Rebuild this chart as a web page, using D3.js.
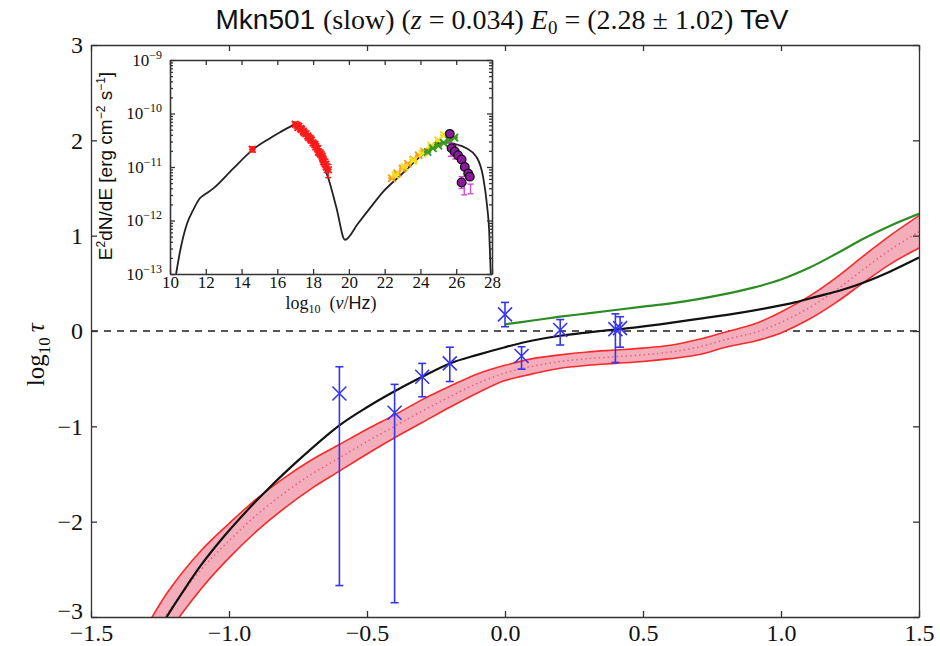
<!DOCTYPE html>
<html>
<head>
<meta charset="utf-8">
<title>Mkn501 optical depth</title>
<script src="https://cdn.jsdelivr.net/npm/d3@7/dist/d3.min.js"></script>
<style>
  body { margin: 0; background: #fff; }
  svg { display: block; }
  .serif { font-family: "Liberation Serif", "DejaVu Serif", serif; }
  .sans { font-family: "Liberation Sans", Arial, sans-serif; }
  .axis path, .axis line { stroke: #333; stroke-width: 1.3; }
  .axis text { fill: #111; font-family: "Liberation Serif", "DejaVu Serif", serif; }
</style>
</head>
<body>
<svg id="chart" width="940" height="646"></svg>
<script>
// ---- main panel data ----
var xTicks = [-1.5, -1.0, -0.5, 0.0, 0.5, 1.0, 1.5];
var yTicks = [-3, -2, -1, 0, 1, 2, 3];

// black model curve
var blackX = [-1.25, -1.226, -1.15, -1.10, -1.02, -0.94, -0.863, -0.75, -0.60, -0.50, -0.405, -0.30, -0.20, -0.10, 0.00, 0.10, 0.20, 0.344, 0.45, 0.562, 0.707, 0.85, 0.948, 1.05, 1.129, 1.22, 1.31, 1.40, 1.50];
var blackY = [-3.12, -3.00, -2.66, -2.45, -2.16, -1.90, -1.67, -1.36, -0.99, -0.80, -0.64, -0.48, -0.34, -0.25, -0.17, -0.10, -0.05, 0.00, 0.03, 0.07, 0.13, 0.19, 0.24, 0.30, 0.36, 0.43, 0.52, 0.63, 0.77];

// green curve
var greenX = [0.00, 0.10, 0.20, 0.30, 0.40, 0.50, 0.60, 0.70, 0.80, 0.90, 1.00, 1.10, 1.20, 1.30, 1.40, 1.50];
var greenY = [0.07, 0.11, 0.15, 0.185, 0.22, 0.255, 0.29, 0.335, 0.39, 0.455, 0.54, 0.66, 0.81, 0.97, 1.11, 1.23];

// red band: centre, lower and upper edges
var bandX   = [-1.30, -1.22, -1.10, -1.00, -0.90, -0.80, -0.70, -0.60, -0.50, -0.40, -0.30, -0.20, -0.10, 0.00, 0.10, 0.20, 0.30, 0.40, 0.50, 0.60, 0.70, 0.80, 0.90, 0.95, 1.00, 1.10, 1.20, 1.30, 1.40, 1.50];
var bandMid = [-3.35, -2.95, -2.50, -2.20, -1.93, -1.70, -1.50, -1.33, -1.16, -1.00, -0.84, -0.69, -0.55, -0.44, -0.37, -0.32, -0.29, -0.27, -0.25, -0.22, -0.17, -0.09, -0.02, 0.03, 0.09, 0.24, 0.43, 0.65, 0.86, 1.04];
var bandLo  = [-3.59, -3.17, -2.70, -2.38, -2.10, -1.86, -1.65, -1.47, -1.29, -1.12, -0.96, -0.80, -0.65, -0.52, -0.45, -0.39, -0.36, -0.34, -0.32, -0.29, -0.25, -0.17, -0.11, -0.07, -0.02, 0.12, 0.30, 0.51, 0.71, 0.87];
var bandHi  = [-3.11, -2.73, -2.30, -2.02, -1.76, -1.54, -1.35, -1.19, -1.03, -0.88, -0.72, -0.58, -0.45, -0.36, -0.29, -0.25, -0.22, -0.20, -0.18, -0.15, -0.09, -0.01, 0.07, 0.13, 0.20, 0.36, 0.56, 0.79, 1.01, 1.21];

// blue measurements
var ptX   = [-0.60, -0.40, -0.30, -0.20, 0.00, 0.06, 0.20, 0.40, 0.417];
var ptY   = [-0.655, -0.857, -0.48, -0.34, 0.175, -0.262, 0.01, 0.02, 0.03];
var ptLo  = [-2.67, -2.85, -0.69, -0.53, 0.045, -0.40, -0.147, -0.33, -0.17];
var ptHi  = [-0.375, -0.56, -0.34, -0.17, 0.30, -0.165, 0.12, 0.18, 0.15];

// ---- inset (SED) data ----
var sedXTicks = [10, 12, 14, 16, 18, 20, 22, 24, 26, 28];
var sedYTicks = [1e-9, 1e-10, 1e-11, 1e-12, 1e-13];
var sedYExp = ["\u22129", "\u221210", "\u221211", "\u221212", "\u221213"];

var sedX = [10.34, 10.56, 10.93, 11.30, 11.68, 12.0, 12.42, 13.50, 14.65, 15.50, 16.15, 16.70, 17.05, 17.50, 17.90, 18.20, 18.60, 18.85, 19.31, 19.78, 20.50, 21.20, 21.92, 22.90, 23.87, 24.90, 25.40, 25.90, 26.57, 27.13, 27.50, 27.73, 27.84, 27.93];
var sedY = [-13.0, -12.58, -12.08, -11.80, -11.58, -11.50, -11.40, -11.04, -10.67, -10.48, -10.35, -10.25, -10.20, -10.32, -10.52, -10.71, -10.99, -11.21, -11.77, -12.36, -12.06, -11.76, -11.46, -11.15, -10.84, -10.56, -10.54, -10.57, -10.65, -10.81, -11.18, -11.74, -12.18, -13.0];

var redX = [14.6, 17.0, 17.1, 17.15, 17.2, 17.3, 17.35, 17.45, 17.5, 17.6, 17.7, 17.75, 17.85, 17.9, 18.0, 18.1, 18.15, 18.25, 18.3, 18.4, 18.5, 18.55, 18.6, 18.7, 18.75, 18.85];
var redY = [-10.67, -10.20, -10.22, -10.26, -10.24, -10.28, -10.30, -10.33, -10.36, -10.38, -10.42, -10.45, -10.47, -10.50, -10.55, -10.58, -10.62, -10.66, -10.72, -10.75, -10.80, -10.85, -10.90, -10.95, -11.00, -11.05];
var redLo = [-10.72, -10.24, -10.26, -10.30, -10.28, -10.32, -10.34, -10.37, -10.40, -10.42, -10.46, -10.49, -10.52, -10.55, -10.60, -10.63, -10.68, -10.72, -10.78, -10.82, -10.88, -10.92, -10.98, -11.04, -11.10, -11.20];
var redHi = [-10.62, -10.16, -10.18, -10.22, -10.20, -10.24, -10.26, -10.29, -10.32, -10.34, -10.38, -10.41, -10.42, -10.45, -10.50, -10.53, -10.56, -10.60, -10.66, -10.68, -10.72, -10.78, -10.82, -10.86, -10.90, -10.95];

var orangeX = [22.4, 22.7, 23.0, 23.3, 23.6, 23.9, 24.2];
var orangeY = [-11.21, -11.12, -11.03, -10.94, -10.86, -10.78, -10.71];
var yellowX = [22.6, 23.1, 23.6, 24.1, 24.6, 25.0, 25.3];
var yellowY = [-11.15, -11.00, -10.88, -10.75, -10.60, -10.50, -10.40];
var gammaGreenX = [24.4, 24.7, 25.0, 25.3, 25.6, 25.9];
var gammaGreenY = [-10.72, -10.65, -10.60, -10.55, -10.50, -10.45];
var purpleX = [25.64, 25.74, 25.92, 26.10, 26.30, 26.48, 26.67, 26.76, 26.30];
var purpleY = [-10.38, -10.65, -10.71, -10.78, -10.86, -11.00, -11.12, -11.18, -11.29];
var magentaX = [25.70, 25.95, 26.30, 26.45, 26.80];
var magentaLo = [-10.80, -10.85, -11.40, -11.52, -11.50];
var magentaHi = [-10.55, -10.60, -11.18, -11.30, -11.32];

// ---- page elements ----
var svg = d3.select("#chart");

var x = d3.scaleLinear().domain([-1.5, 1.5]).range([91, 919]);
var y = d3.scaleLinear().domain([-3, 3]).range([617, 45]);

svg.append("defs").append("clipPath").attr("id", "plotClip")
  .append("rect")
    .attr("x", x(-1.5)).attr("y", y(3))
    .attr("width", x(1.5) - x(-1.5)).attr("height", y(-3) - y(3));

var plot = svg.append("g").attr("clip-path", "url(#plotClip)");

// zero line
plot.append("line")
  .attr("x1", x(-1.5)).attr("x2", x(1.5))
  .attr("y1", y(0)).attr("y2", y(0))
  .attr("stroke", "#555").attr("stroke-width", 2)
  .attr("stroke-dasharray", "7,6");

// red band
var bandData = bandX.map(function(d, i) {
  return {x: d, mid: bandMid[i], lo: bandLo[i], hi: bandHi[i]};
});
var smooth = d3.curveCatmullRom.alpha(0.5);
var band = d3.area()
  .x(function(d) { return x(d.x); })
  .y0(function(d) { return y(d.lo); })
  .y1(function(d) { return y(d.hi); })
  .curve(smooth);
plot.append("path").datum(bandData)
  .attr("d", band)
  .attr("fill", "#f4aebb").attr("stroke", "none");
["lo", "hi"].forEach(function(k) {
  plot.append("path").datum(bandData)
    .attr("d", d3.line()
      .x(function(d) { return x(d.x); })
      .y(function(d) { return y(d[k]); })
      .curve(smooth))
    .attr("fill", "none").attr("stroke", "#f52a2a").attr("stroke-width", 1.6);
});
plot.append("path").datum(bandData)
  .attr("d", d3.line()
    .x(function(d) { return x(d.x); })
    .y(function(d) { return y(d.mid); })
    .curve(smooth))
  .attr("fill", "none").attr("stroke", "#e4627c").attr("stroke-width", 1.5)
  .attr("stroke-dasharray", "1.5,3");

// green and black curves
function curve(xs, ys) {
  return d3.line()
    .x(function(d, i) { return x(xs[i]); })
    .y(function(d, i) { return y(ys[i]); })
    .curve(smooth)(xs);
}
plot.append("path").attr("d", curve(greenX, greenY))
  .attr("fill", "none").attr("stroke", "#2a8c22").attr("stroke-width", 2.2);
plot.append("path").attr("d", curve(blackX, blackY))
  .attr("fill", "none").attr("stroke", "#111").attr("stroke-width", 2.2);

// blue points with error bars
var blue = "#3434f4";
var pts = plot.selectAll(".pt")
  .data(ptX.map(function(d, i) { return {x: d, y: ptY[i], lo: ptLo[i], hi: ptHi[i]}; }))
  .enter().append("g").attr("class", "pt");
pts.append("line")
  .attr("x1", function(d) { return x(d.x); }).attr("x2", function(d) { return x(d.x); })
  .attr("y1", function(d) { return y(d.lo); }).attr("y2", function(d) { return y(d.hi); })
  .attr("stroke", blue).attr("stroke-width", 1.6);
["lo", "hi"].forEach(function(k) {
  pts.append("line")
    .attr("x1", function(d) { return x(d.x) - 4; }).attr("x2", function(d) { return x(d.x) + 4; })
    .attr("y1", function(d) { return y(d[k]); }).attr("y2", function(d) { return y(d[k]); })
    .attr("stroke", blue).attr("stroke-width", 1.6);
});
pts.append("path")
  .attr("d", function(d) {
    var cx = x(d.x), cy = y(d.y), r = 7;
    return "M" + (cx - r) + "," + (cy - r) + "L" + (cx + r) + "," + (cy + r) +
           "M" + (cx - r) + "," + (cy + r) + "L" + (cx + r) + "," + (cy - r);
  })
  .attr("stroke", blue).attr("stroke-width", 1.6).attr("fill", "none");

// main axes
var xAxis = d3.axisBottom(x).tickValues(xTicks).tickFormat(d3.format(".1f"))
  .tickSizeInner(-6).tickSizeOuter(0).tickPadding(7);
var yAxis = d3.axisLeft(y).tickValues(yTicks).tickFormat(d3.format("d"))
  .tickSizeInner(-6).tickSizeOuter(0).tickPadding(8);
svg.append("g").attr("class", "axis").attr("transform", "translate(0," + y(-3) + ")")
  .call(xAxis).selectAll("text").attr("font-size", 24);
svg.append("g").attr("class", "axis").attr("transform", "translate(" + x(-1.5) + ",0)")
  .call(yAxis).selectAll("text").attr("font-size", 24)
  .attr("dy", function(d) { return d === -3 ? "0.08em" : "0.32em"; });
svg.append("g").attr("class", "axis").attr("transform", "translate(0," + y(3) + ")")
  .call(d3.axisTop(x).tickValues(xTicks).tickFormat("").tickSizeInner(-6).tickSizeOuter(0));
svg.append("g").attr("class", "axis").attr("transform", "translate(" + x(1.5) + ",0)")
  .call(d3.axisRight(y).tickValues(yTicks).tickFormat("").tickSizeInner(-6).tickSizeOuter(0));

// y label
var yl = svg.append("text").attr("class", "serif")
  .attr("transform", "translate(44," + y(-0.25) + ") rotate(-90)")
  .attr("text-anchor", "middle").attr("font-size", 25).attr("fill", "#111");
yl.append("tspan").text("log");
yl.append("tspan").attr("font-size", 17).attr("dy", 6).text("10");
yl.append("tspan").attr("dy", -6).attr("font-style", "italic").text("\u2009\u03c4");

// title
var title = svg.append("text").attr("x", 502).attr("y", 29)
  .attr("text-anchor", "middle").attr("font-size", 28).attr("fill", "#111");
title.append("tspan").attr("class", "sans").text("Mkn501 ");
title.append("tspan").attr("class", "serif").text("(slow) (");
title.append("tspan").attr("class", "serif").attr("font-style", "italic").text("z");
title.append("tspan").attr("class", "serif").text("\u2005=\u20050.034) ");
title.append("tspan").attr("class", "serif").attr("font-style", "italic").text("E");
title.append("tspan").attr("class", "serif").attr("font-size", 19).attr("dy", 5).text("0");
title.append("tspan").attr("class", "serif").attr("dy", -5).text("\u2005=\u2005(2.28\u2005\u00b1\u20051.02) ");
title.append("tspan").attr("class", "sans").text("TeV");

// ---- inset ----
var ix = d3.scaleLinear().domain([10, 28]).range([170, 492]);
var iy = d3.scaleLog().domain([1e-13, 1e-9]).range([274, 60]);
var inset = svg.append("g");
inset.append("rect")
  .attr("x", ix(10)).attr("y", iy(1e-9))
  .attr("width", ix(28) - ix(10)).attr("height", iy(1e-13) - iy(1e-9))
  .attr("fill", "#fff");

var ip = inset.append("g");
ip.append("path")
  .attr("d", d3.line()
    .x(function(d, i) { return ix(sedX[i]); })
    .y(function(d, i) { return iy(Math.pow(10, sedY[i])); })
    .curve(d3.curveMonotoneX)(sedX))
  .attr("fill", "none").attr("stroke", "#222").attr("stroke-width", 1.8);

function crosses(xs, ys, color, r, w) {
  ip.append("g").selectAll("path").data(xs).enter().append("path")
    .attr("d", function(d, i) {
      var cx = ix(d), cy = iy(Math.pow(10, ys[i]));
      return "M" + (cx - r) + "," + (cy - r) + "L" + (cx + r) + "," + (cy + r) +
             "M" + (cx - r) + "," + (cy + r) + "L" + (cx + r) + "," + (cy - r) +
             "M" + (cx - r) + "," + cy + "L" + (cx + r) + "," + cy;
    })
    .attr("stroke", color).attr("stroke-width", w).attr("fill", "none");
}
function bars(xs, lo, hi, color) {
  var g = ip.append("g").selectAll("g").data(xs).enter().append("g");
  g.append("line")
    .attr("x1", function(d) { return ix(d); }).attr("x2", function(d) { return ix(d); })
    .attr("y1", function(d, i) { return iy(Math.pow(10, lo[i])); })
    .attr("y2", function(d, i) { return iy(Math.pow(10, hi[i])); })
    .attr("stroke", color).attr("stroke-width", 1.4);
  [lo, hi].forEach(function(arr) {
    g.append("line")
      .attr("x1", function(d) { return ix(d) - 3; }).attr("x2", function(d) { return ix(d) + 3; })
      .attr("y1", function(d, i) { return iy(Math.pow(10, arr[i])); })
      .attr("y2", function(d, i) { return iy(Math.pow(10, arr[i])); })
      .attr("stroke", color).attr("stroke-width", 1.4);
  });
}

bars(redX, redLo, redHi, "#ff1a1a");
crosses(redX, redY, "#ff1a1a", 3.4, 1.7);
crosses(orangeX, orangeY, "#ff9a10", 3.6, 2);
crosses(yellowX, yellowY, "#f2e020", 3.6, 2);
crosses(gammaGreenX, gammaGreenY, "#3c9a1c", 3.6, 2);
bars(magentaX, magentaLo, magentaHi, "#d04ad0");
ip.append("g").selectAll("circle").data(purpleX).enter().append("circle")
  .attr("cx", function(d) { return ix(d); })
  .attr("cy", function(d, i) { return iy(Math.pow(10, purpleY[i])); })
  .attr("r", 4.3)
  .attr("fill", "#8c1a9e").attr("stroke", "#111").attr("stroke-width", 1.3);

// inset axes
var minorTicks = [];
[-13, -12, -11, -10].forEach(function(e) {
  for (var m = 2; m < 10; m++) minorTicks.push(m * Math.pow(10, e));
});
inset.append("g").attr("class", "axis").attr("transform", "translate(0," + iy(1e-13) + ")")
  .call(d3.axisBottom(ix).tickValues(sedXTicks).tickFormat(d3.format("d"))
    .tickSizeInner(-5).tickSizeOuter(0).tickPadding(2))
  .selectAll("text").attr("font-size", 17);
inset.append("g").attr("class", "axis").attr("transform", "translate(0," + iy(1e-9) + ")")
  .call(d3.axisTop(ix).tickValues(sedXTicks).tickFormat("").tickSizeInner(-5).tickSizeOuter(0));
var iyAxis = inset.append("g").attr("class", "axis").attr("transform", "translate(" + ix(10) + ",0)")
  .call(d3.axisLeft(iy).tickValues(sedYTicks).tickFormat("").tickSizeInner(-5).tickSizeOuter(0).tickPadding(8));
iyAxis.selectAll(".tick text").each(function(d, i) {
  var t = d3.select(this).attr("font-size", 17);
  t.append("tspan").text("10");
  t.append("tspan").attr("font-size", 12).attr("dy", -7).text(sedYExp[i]);
});
inset.append("g").attr("class", "axis").attr("transform", "translate(" + ix(10) + ",0)")
  .call(d3.axisLeft(iy).tickValues(minorTicks).tickFormat("").tickSizeInner(-3).tickSizeOuter(0));
inset.append("g").attr("class", "axis").attr("transform", "translate(" + ix(28) + ",0)")
  .call(d3.axisRight(iy).tickValues(sedYTicks).tickFormat("").tickSizeInner(-5).tickSizeOuter(0));
inset.append("g").attr("class", "axis").attr("transform", "translate(" + ix(28) + ",0)")
  .call(d3.axisRight(iy).tickValues(minorTicks).tickFormat("").tickSizeInner(-3).tickSizeOuter(0));
inset.selectAll(".axis path.domain").attr("stroke", "#111").attr("stroke-width", 1.7);

// inset axis labels
var ixl = inset.append("text").attr("x", 331).attr("y", 309)
  .attr("text-anchor", "middle").attr("font-size", 18).attr("fill", "#111");
ixl.append("tspan").attr("class", "serif").text("log");
ixl.append("tspan").attr("class", "serif").attr("font-size", 12).attr("dy", 4).text("10");
ixl.append("tspan").attr("class", "serif").attr("dy", -4).text("\u2002(");
ixl.append("tspan").attr("class", "serif").attr("font-style", "italic").text("\u03bd");
ixl.append("tspan").attr("class", "serif").text("/");
ixl.append("tspan").attr("class", "sans").text("Hz");
ixl.append("tspan").attr("class", "serif").text(")");

var iyl = inset.append("text").attr("class", "sans")
  .attr("transform", "translate(112," + 166 + ") rotate(-90)")
  .attr("text-anchor", "middle").attr("font-size", 19).attr("fill", "#111");
iyl.append("tspan").text("E");
iyl.append("tspan").attr("font-size", 12).attr("dy", -7).text("2");
iyl.append("tspan").attr("dy", 7).text("dN/dE [erg cm");
iyl.append("tspan").attr("font-size", 12).attr("dy", -7).text("\u22122");
iyl.append("tspan").attr("dy", 7).text(" s");
iyl.append("tspan").attr("font-size", 12).attr("dy", -7).text("\u22121");
iyl.append("tspan").attr("dy", 7).text("]");
</script>
</body>
</html>
